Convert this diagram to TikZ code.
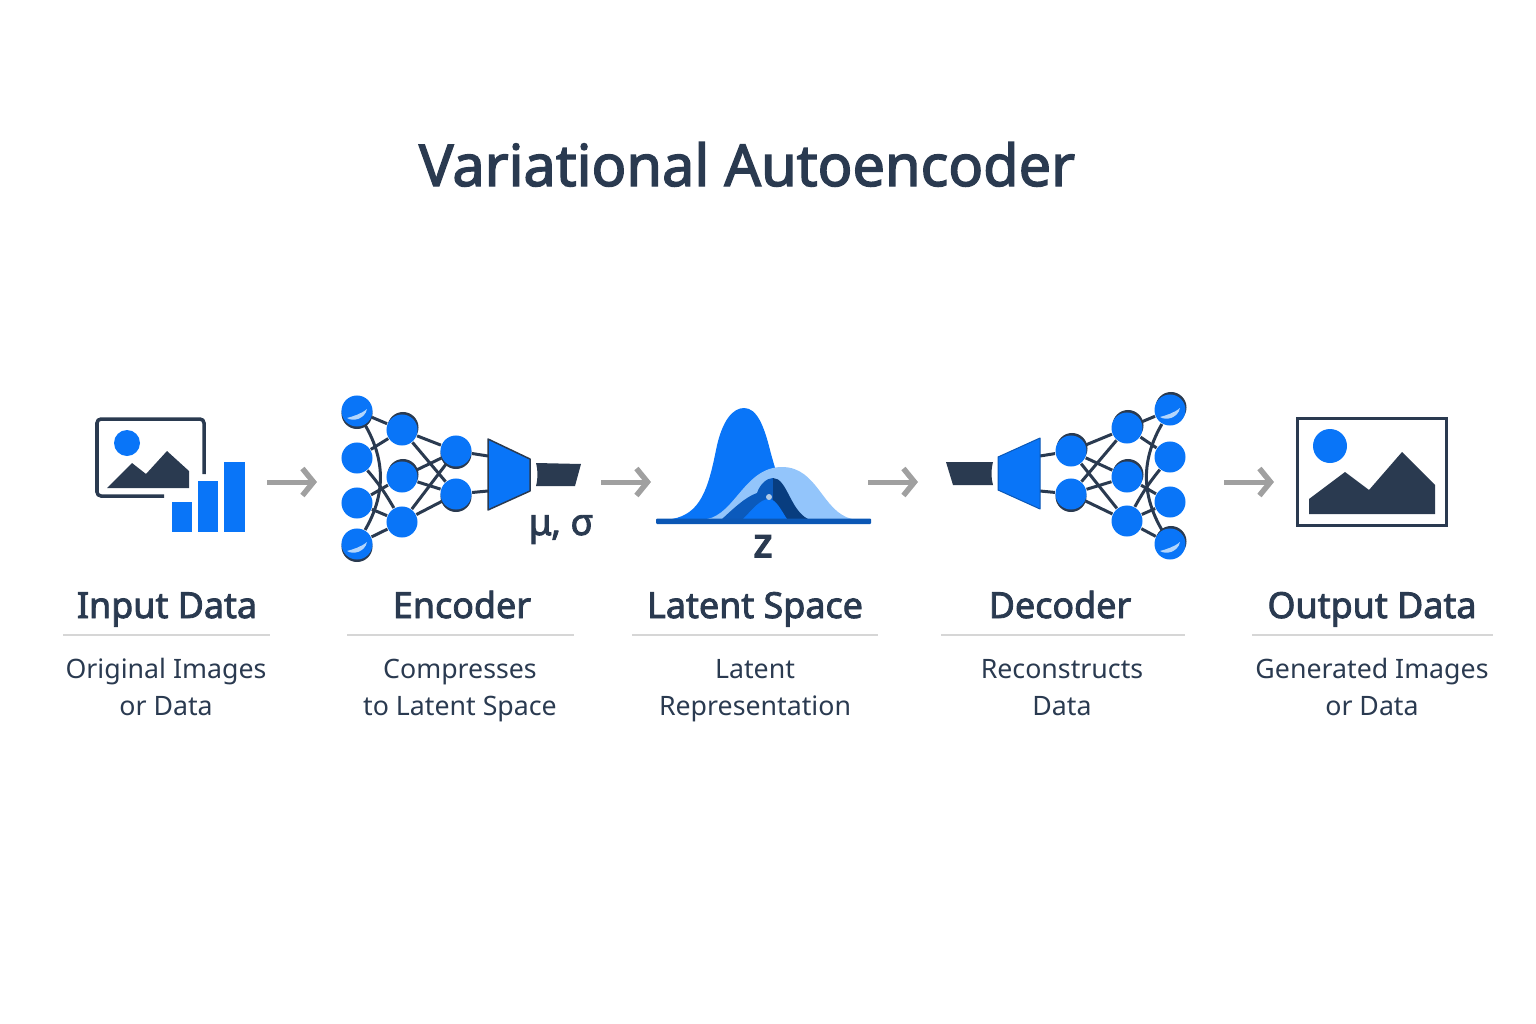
\documentclass[tikz,border=0pt]{standalone}
\usepackage{fontspec}
\setmainfont{Noto Sans}
\newfontfamily\headfont{Noto Sans}[FakeBold=2.4]
\newfontfamily\heavyfont{Noto Sans}[FakeBold=4]
\usetikzlibrary{arrows.meta,shadows}
\definecolor{vaeblue}{HTML}{0975F8}
\definecolor{vaenavy}{HTML}{2A3A50}
\definecolor{vaedeep}{HTML}{0B57B5}
\definecolor{vaesky}{HTML}{93C5FB}
\definecolor{vaegray}{HTML}{A0A0A0}
\definecolor{vaerule}{HTML}{D6D6D6}
\tikzset{
	netnode/.style={circle, fill=vaeblue, inner sep=0, minimum size=0.31cm},
	ringdown/.style={general shadow={fill=vaenavy, shadow xshift=0cm, shadow yshift=-0.025cm}},
	ringup/.style={general shadow={fill=vaenavy, shadow xshift=0.01cm, shadow yshift=0.025cm}},
	netedge/.style={draw=vaenavy, line width=0.03cm},
	flowarrow/.style={draw=vaegray, line width=0.05cm, -{Straight Barb[length=0.11cm,width=0.27cm,line width=0.055cm]}},
	steptitle/.style={font=\fontsize{10.2}{12}\headfont, text=vaenavy, anchor=base},
	stepnote/.style={font=\fontsize{7.6}{10.5}\selectfont, text=vaenavy, align=center, anchor=base},
}
\def\nodeshine(#1,#2){\fill[vaesky!70!white] (#1-10,#2+7) .. controls (#1-3,#2+5) and (#1+4,#2+3) .. (#1+10,#2-2) .. controls (#1+8,#2+8) and (#1-4,#2+11) .. cycle;}

\begin{document}
\begin{tikzpicture}[x=0.01cm,y=-0.01cm]
	\useasboundingbox (0,0) rectangle (1536,1024);

	%%%%% TITLE %%%%%
	\node[font=\fontsize{16.4}{20}\headfont, text=vaenavy, anchor=base] (title) at (747,186) {Variational Autoencoder};

	%%%%% INPUT %%%%%
	\draw[vaenavy, line width=0.035cm, rounded corners=0.04cm] (204,474) -- (204,419) -- (97,419) -- (97,496) -- (164,496);
	\fill[vaeblue] (127,443) circle (13);
	\fill[vaenavy] (107,488) -- (132,463) -- (146,474) -- (167,451) -- (189,471) -- (189,488) -- cycle;
	\fill[vaeblue] (172,502) rectangle (192,532);
	\fill[vaeblue] (198,481) rectangle (218,532);
	\fill[vaeblue] (224,462) rectangle (245,532);

	%%%%% ENCODER %%%%%
	\node[netnode, ringdown] (e11) at (357,411) {};
	\node[netnode] (e12) at (357,458) {};
	\node[netnode] (e13) at (357,503) {};
	\node[netnode, ringdown] (e14) at (357,544) {};
	\node[netnode, ringup] (e21) at (402,430) {};
	\node[netnode, ringup] (e22) at (402,477) {};
	\node[netnode] (e23) at (402,522) {};
	\node[netnode, ringdown] (e31) at (456,451) {};
	\node[netnode, ringdown] (e32) at (456,494) {};
	\nodeshine(357,411)
	\nodeshine(357,544)
	\foreach \a/\b in {e11/e21, e12/e21, e13/e22, e13/e23, e14/e23}
		\draw[netedge] (\a) -- (\b);
	\draw[netedge] (e11) to[bend left=30] (e14);
	\draw[netedge] (e12) to[bend left=5] (e23);
	\foreach \a in {e21,e22,e23}
		\foreach \b in {e31,e32}
			\draw[netedge] (\a) -- (\b);
	\coordinate (ein1) at (488,456);
	\coordinate (ein2) at (488,491);
	\draw[netedge] (e31) -- (ein1);
	\draw[netedge] (e32) -- (ein2);
	\filldraw[fill=vaeblue, draw=vaenavy, line width=0.015cm, line join=round] (488,439) -- (530,459) -- (530,491) -- (488,510) -- cycle;
	\fill[vaenavy] (536,463) -- (581,464) -- (575,486) -- (536,486) .. controls (538,478) and (538,471) .. cycle;
	\node[font=\fontsize{10.5}{12}\headfont, text=vaenavy, anchor=base] (musigma) at (561,535) {μ, σ};

	%%%%% LATENT %%%%%
	\fill[vaeblue] (672,519) .. controls (700,514) and (708,490) .. (716,450) .. controls (722,420) and (733,408) .. (744,408) .. controls (757,408) and (764,426) .. (770,450) .. controls (778,480) and (790,519) .. (810,519) -- cycle;
	\fill[vaesky] (707,519) .. controls (735,514) and (745,467) .. (782,467) .. controls (818,467) and (822,512) .. (852,519) -- cycle;
	\fill[vaedeep!90!vaeblue] (722,519) .. controls (732,510) and (745,497) .. (757,493) .. controls (760,484) and (767,478) .. (773,478) -- (773,519) -- cycle;
	\fill[vaedeep!70!black] (773,478) .. controls (787,478) and (790,510) .. (808,519) -- (773,519) -- cycle;
	\fill[vaeblue] (743,519) .. controls (752,510) and (760,499) .. (769,499) .. controls (776,499) and (781,510) .. (787,519) -- cycle;
	\fill[black!15!vaesky!60!white] (769,497) circle (3);
	\fill[vaedeep, rounded corners=0.01cm] (656,518.5) rectangle (871,524);
	\node[font=\fontsize{11.5}{12}\heavyfont, text=vaenavy, anchor=base] (zlabel) at (763,557) {z};

	%%%%% DECODER %%%%%
	\node[netnode, ringup] (d11) at (1071,451) {};
	\node[netnode, ringdown] (d12) at (1071,494) {};
	\node[netnode, ringup] (d21) at (1127,428) {};
	\node[netnode, ringup] (d22) at (1127,477) {};
	\node[netnode] (d23) at (1127,521) {};
	\node[netnode, ringup] (d31) at (1170,410) {};
	\node[netnode] (d32) at (1170,457) {};
	\node[netnode] (d33) at (1170,502) {};
	\node[netnode, ringup] (d34) at (1170,544) {};
	\nodeshine(1170,410)
	\nodeshine(1170,544)
	\foreach \a in {d11,d12}
		\foreach \b in {d21,d22,d23}
			\draw[netedge] (\a) -- (\b);
	\foreach \a/\b in {d21/d31, d21/d32, d22/d33, d23/d33, d23/d34}
		\draw[netedge] (\a) -- (\b);
	\draw[netedge] (d31) to[bend right=30] (d34);
	\draw[netedge] (d32) to[bend right=5] (d23);
	\coordinate (dout1) at (1040,456);
	\coordinate (dout2) at (1040,491);
	\draw[netedge] (d11) -- (dout1);
	\draw[netedge] (d12) -- (dout2);
	\filldraw[fill=vaeblue, draw=vaedeep, line width=0.01cm, line join=round] (1040,438) -- (998,457) -- (998,490) -- (1040,509) -- cycle;
	\fill[vaenavy] (946,462) -- (993,462) .. controls (991,470) and (991,478) .. (993,485) -- (953,485) -- cycle;

	%%%%% OUTPUT %%%%%
	\draw[vaenavy, line width=0.03cm] (1297,418) rectangle (1446,525);
	\fill[vaeblue] (1330,446) circle (17);
	\fill[vaenavy] (1309,514) -- (1309,499) -- (1345,472) -- (1369,490) -- (1402,452) -- (1435,485) -- (1435,514) -- cycle;

	%%%%% ARROWS %%%%%
	\foreach \n/\xa/\xb in {1/267/317, 2/601/651, 3/868/918, 4/1224/1274}{
		\coordinate (as\n) at (\xa,482);
		\coordinate (ae\n) at (\xb,482);
		\draw[flowarrow] (as\n) -- (ae\n);
	}

	%%%%% LABELS %%%%%
	\foreach \n/\xt/\xn/\xl/\xr/\hd/\nt in {
		1/167/166/63/270/{Input Data}/{Original Images\\or Data},
		2/462/460/347/574/{Encoder}/{Compresses\\to Latent Space},
		3/755/755/632/878/{Latent Space}/{Latent\\Representation},
		4/1060/1062/941/1185/{Decoder}/{Reconstructs\\Data},
		5/1372/1372/1252/1493/{Output Data}/{Generated Images\\or Data}}{
		\node[steptitle] (head\n) at (\xt,618) {\hd};
		\draw[vaerule, line width=0.02cm] (\xl,635) -- (\xr,635);
		\node[stepnote] (note\n) at (\xn,715) {\nt};
	}
\end{tikzpicture}
\end{document}
